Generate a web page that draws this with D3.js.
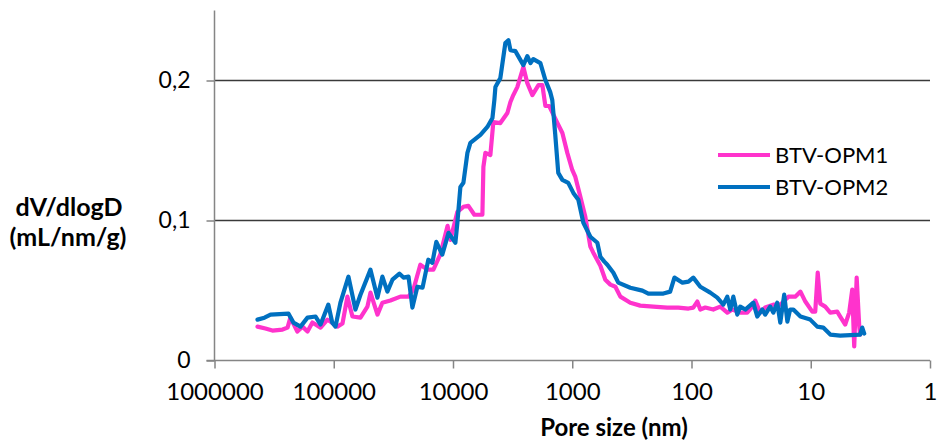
<!DOCTYPE html>
<html>
<head>
<meta charset="utf-8">
<script src="https://cdn.jsdelivr.net/npm/d3@7"></script>
<style>
  html, body { margin: 0; padding: 0; background: #fff; }
  svg { display: block; }
  text { font-family: Lato, "Open Sans", sans-serif; fill: #000; }
</style>
</head>
<body>
<svg id="chart" width="937" height="443"></svg>
<script>
// ---- Data (pore size in nm, dV/dlogD in mL/nm/g) ----
const seriesNames = ["BTV-OPM1", "BTV-OPM2"];
const seriesColors = ["#FF33CC", "#0070C0"];

const opm1Size = [436000,374000,327000,269000,244000,231000,202000,183000,166000,151000,
  129000,113000,93100,84500,76800,69700,59700,52200,49200,43000,
  39100,33500,27600,23600,21500,18800,16400,14600,12800,11100,
  10500,9190,8180,7430,6620,5670,5560,5350,4860,4590,
  4010,3500,3300,3120,2890,2570,2380,2160,1920,1780,
  1680,1560,1330,1210,1100,1000,942,855,777,705,
  666,581,528,479,435,395,326,269,209,160,
  129,106,96.6,89.4,84.4,76.6,65.7,57.4,50.1,45.5,
  39.0,34.1,30.9,29.2,26.5,24.1,20.6,18.0,15.4,13.5,
  12.2,11.1,9.71,9.17,8.74,8.32,7.56,6.86,6.00,5.66,
  5.14,4.76,4.49,4.32,4.12,3.92,3.85];
const opm1Value = [0.0242,0.0228,0.0214,0.0221,0.0235,0.0306,0.0207,0.0242,0.0207,0.0271,
  0.0235,0.0292,0.0242,0.0264,0.0456,0.0314,0.0306,0.0385,0.0485,0.0328,
  0.0413,0.0428,0.0456,0.0456,0.0506,0.0684,0.0649,0.0649,0.0756,0.0962,
  0.0862,0.1062,0.1098,0.1105,0.1041,0.1041,0.1383,0.1483,0.1468,0.1703,
  0.1696,0.1768,0.1846,0.1896,0.1953,0.2096,0.1981,0.1896,0.1967,0.1967,
  0.1818,0.1818,0.1696,0.1625,0.1483,0.1361,0.1311,0.1169,0.1026,0.0813,
  0.0770,0.0677,0.0577,0.0542,0.0527,0.0456,0.0413,0.0392,0.0385,0.0378,
  0.0378,0.0371,0.0378,0.0421,0.0364,0.0378,0.0364,0.0385,0.0342,0.0364,
  0.0342,0.0342,0.0385,0.0428,0.0342,0.0378,0.0399,0.0399,0.0456,0.0456,
  0.0492,0.0421,0.0349,0.0349,0.0627,0.0406,0.0385,0.0342,0.0349,0.0314,
  0.0257,0.0342,0.0506,0.0100,0.0592,0.0242,0.0185];

const opm2Size = [436000,381000,339000,240000,218000,190000,166000,142000,129000,111000,
  103000,96700,87900,75300,65800,59700,49200,43000,39100,35500,
  32200,28100,26000,23600,21900,19900,18000,16100,14900,13800,
  12300,10900,9550,9190,8670,8180,7570,7150,5890,5150,
  4670,4500,4410,4010,3640,3430,3300,3000,2570,2380,
  2240,2120,1850,1680,1530,1470,1390,1310,1210,1080,
  979,889,807,705,616,581,538,508,452,411,
  326,258,230,172,151,139,119,106,96.6,84.4,
  69.6,60.8,54.1,50.1,47.3,44.6,41.3,39.0,35.4,30.3,
  28.1,25.5,24.1,21.9,20.6,19.1,18.0,16.7,15.7,14.9,
  14.0,12.2,10.1,8.82,7.86,6.86,5.66,3.85,3.70,3.56];
const opm2Value = [0.0292,0.0306,0.0328,0.0335,0.0271,0.0242,0.0306,0.0314,0.0257,0.0399,
  0.0271,0.0242,0.0413,0.0599,0.0364,0.0470,0.0649,0.0449,0.0599,0.0492,
  0.0577,0.0620,0.0592,0.0599,0.0378,0.0527,0.0520,0.0720,0.0698,0.0848,
  0.0756,0.0912,0.0841,0.0984,0.1240,0.1269,0.1483,0.1554,0.1611,0.1668,
  0.1732,0.1860,0.1953,0.2017,0.2267,0.2288,0.2217,0.2210,0.2110,0.2174,
  0.2124,0.2153,0.2124,0.2003,0.1917,0.1860,0.1618,0.1340,0.1290,0.1269,
  0.1197,0.1148,0.0984,0.0884,0.0841,0.0741,0.0706,0.0684,0.0627,0.0556,
  0.0520,0.0499,0.0478,0.0478,0.0492,0.0592,0.0556,0.0563,0.0592,0.0527,
  0.0485,0.0449,0.0399,0.0456,0.0364,0.0456,0.0328,0.0385,0.0364,0.0413,
  0.0314,0.0364,0.0328,0.0385,0.0342,0.0413,0.0271,0.0470,0.0278,0.0364,
  0.0364,0.0314,0.0292,0.0242,0.0235,0.0185,0.0178,0.0185,0.0235,0.0192];

const xTickValues = [1000000, 100000, 10000, 1000, 100, 10, 1];
const xTickLabels = ["1000000", "100000", "10000", "1000", "100", "10", "1"];
const yTickValues = [0, 0.1, 0.2];
const yTickLabels = ["0", "0,1", "0,2"];
const xTitle = "Pore size (nm)";
const yTitleLines = ["dV/dlogD", "(mL/nm/g)"];

// ---- Layout ----
const svg = d3.select("#chart");
const plotLeft = 214.5, plotRight = 930, plotTop = 10.5, plotBottom = 360.5;

const x = d3.scaleLog().domain([1000000, 1]).range([plotLeft, plotRight]);
const y = d3.scaleLinear().domain([0, 0.25]).range([plotBottom, plotTop]);

// gridlines
svg.append("g")
  .selectAll("line")
  .data(yTickValues.filter(v => v > 0))
  .join("line")
  .attr("x1", plotLeft).attr("x2", plotRight)
  .attr("y1", d => Math.round(y(d)) + 0.5).attr("y2", d => Math.round(y(d)) + 0.5)
  .attr("stroke", "#3a3a3a").attr("stroke-width", 1.3);

// y axis
const yAxis = d3.axisLeft(y).tickValues(yTickValues)
  .tickFormat((d, i) => yTickLabels[i]).tickSize(8).tickPadding(16);
const gy = svg.append("g").attr("transform", `translate(${plotLeft},0)`).call(yAxis);
gy.select(".domain").attr("stroke", "#858585").attr("stroke-width", 1.5)
  .attr("d", `M0,${plotTop}V${plotBottom}`);
gy.selectAll(".tick line").attr("stroke", "#858585").attr("stroke-width", 1.5);
gy.selectAll(".tick text").style("font-size", "23px").style("font-family", "Lato, sans-serif").attr("fill", "#000");

// x axis
const xAxis = d3.axisBottom(x).tickValues(xTickValues)
  .tickFormat((d, i) => xTickLabels[i]).tickSize(8).tickPadding(14);
const gx = svg.append("g").attr("transform", `translate(0,${plotBottom})`).call(xAxis);
gx.select(".domain").attr("stroke", "#858585").attr("stroke-width", 1.5)
  .attr("d", `M${plotLeft - 8},0H${plotRight}`);
gx.selectAll(".tick line").attr("stroke", "#858585").attr("stroke-width", 1.5);
gx.selectAll(".tick text").style("font-size", "24px").style("font-family", "Lato, sans-serif").attr("fill", "#000");

// titles
svg.append("text").attr("x", 614).attr("y", 436)
  .attr("text-anchor", "middle").style("font-size", "24px").style("font-weight", "bold")
  .text(xTitle);
svg.append("text").attr("x", 69).attr("y", 216)
  .attr("text-anchor", "middle").style("font-size", "25px").style("font-weight", "bold")
  .text(yTitleLines[0]);
svg.append("text").attr("x", 68).attr("y", 246)
  .attr("text-anchor", "middle").style("font-size", "25px").style("font-weight", "bold")
  .text(yTitleLines[1]);

// lines
const line = d3.line().x(d => x(d[0])).y(d => y(d[1]));
const series = [
  d3.zip(opm1Size, opm1Value),
  d3.zip(opm2Size, opm2Value)
];
svg.append("g").selectAll("path")
  .data(series)
  .join("path")
  .attr("d", line)
  .attr("fill", "none")
  .attr("stroke", (d, i) => seriesColors[i])
  .attr("stroke-width", 4.2)
  .attr("stroke-linejoin", "round")
  .attr("stroke-linecap", "round");

// legend
const legend = svg.append("g");
seriesNames.forEach((name, i) => {
  const ly = 155 + i * 32;
  legend.append("line").attr("x1", 718).attr("x2", 770).attr("y1", ly).attr("y2", ly)
    .attr("stroke", seriesColors[i]).attr("stroke-width", 4.2);
  legend.append("text").attr("x", 775).attr("y", ly + 8)
    .style("font-size", "22px").text(name);
});
</script>
</body>
</html>
